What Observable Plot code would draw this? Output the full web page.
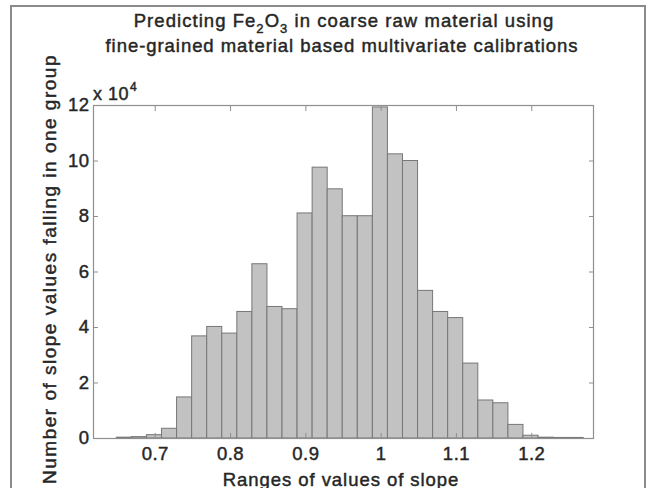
<!DOCTYPE html>
<html>
<head>
<meta charset="utf-8">
<script src="https://cdn.jsdelivr.net/npm/d3@7"></script>
<script src="https://cdn.jsdelivr.net/npm/@observablehq/plot@0.6"></script>
<style>
  html, body { margin: 0; padding: 0; background: #fff; }
  #wrap { position: relative; width: 653px; height: 488px; overflow: hidden; font-family: "Liberation Sans", Arial, sans-serif; color: #262626; }
  #wrap svg { position: absolute; left: 0; top: 0; }
  .lbl { position: absolute; white-space: nowrap; font-size: 18.5px; line-height: 18.5px; -webkit-text-stroke: 0.45px #262626; }
  #border { position: absolute; left: 10px; top: 5px; width: 636px; height: 600px; border: 2px solid #8a8a8a; box-sizing: border-box; }
</style>
</head>
<body>
<div id="wrap">
  <div id="border"></div>
</div>
<script>
// ---- data (counts are in units of 10^4) ----
const binCenters = [0.659, 0.679, 0.699, 0.719, 0.739, 0.759, 0.779, 0.799, 0.819, 0.839,
                    0.859, 0.879, 0.899, 0.919, 0.939, 0.959, 0.979, 0.999, 1.019, 1.039,
                    1.059, 1.079, 1.099, 1.119, 1.139, 1.159, 1.179, 1.199, 1.219, 1.239, 1.259];
const counts = [0.03, 0.05, 0.12, 0.35, 1.48, 3.68, 4.02, 3.78, 4.56, 6.28,
                4.74, 4.66, 8.11, 9.76, 8.98, 8.01, 8.01, 11.93, 10.24, 10.0,
                5.32, 4.56, 4.34, 2.70, 1.37, 1.27, 0.49, 0.10, 0.03, 0.02, 0.02];
const binWidth = 0.02;
const xTicks = [0.7, 0.8, 0.9, 1.0, 1.1, 1.2];
const xTickLabels = ["0.7", "0.8", "0.9", "1", "1.1", "1.2"];
const yTicks = [0, 2, 4, 6, 8, 10, 12];
const yTickLabels = ["0", "2", "4", "6", "8", "10", "12"];
const xDomain = [0.618, 1.282];
const yDomain = [0, 12];

const titleLine1 = 'Predicting Fe<span class="sub">2</span>O<span class="sub">3</span> in coarse raw material using';
const titleLine2 = "fine-grained material based multivariate calibrations";
const xLabel = "Ranges of values of slope";
const yLabel = "Number of slope values falling in one group";

const bins = binCenters.map((c, i) => ({x1: c - binWidth / 2, x2: c + binWidth / 2, count: counts[i]}));

const axisColor = "#8f8f8f";
const chart = Plot.plot({
  width: 653,
  height: 488,
  marginLeft: 93,
  marginRight: 60,
  marginTop: 105,
  marginBottom: 50,
  style: {fontFamily: "'Liberation Sans', Arial, sans-serif", fontSize: "18.5px", color: "#262626", background: "transparent", overflow: "visible"},
  x: {domain: xDomain},
  y: {domain: yDomain},
  marks: [
    Plot.rectY(bins, {x1: "x1", x2: "x2", y: "count", fill: "#c2c2c2", stroke: "#777", strokeWidth: 1}),
    Plot.frame({stroke: axisColor, strokeWidth: 1.2}),
    Plot.axisX({anchor: "bottom", ticks: xTicks, tickSize: -5, tickPadding: 13.5, stroke: axisColor,
                tickFormat: d => xTickLabels[xTicks.indexOf(d)], label: null, fill: "#262626"}),
    Plot.axisX({anchor: "top", ticks: xTicks, tickSize: -5, tickFormat: () => "", label: null, stroke: axisColor}),
    Plot.axisY({anchor: "left", ticks: yTicks, tickSize: -5, tickPadding: 9, stroke: axisColor,
                tickFormat: d => yTickLabels[yTicks.indexOf(d)], label: null, fill: "#262626"}),
    Plot.axisY({anchor: "right", ticks: yTicks, tickSize: -5, tickFormat: () => "", label: null, stroke: axisColor})
  ]
});
const wrap = document.getElementById("wrap");
wrap.appendChild(chart);
chart.querySelectorAll("text").forEach(t => {
  t.style.letterSpacing = "0.5px";
  t.setAttribute("stroke", "#262626");
  t.setAttribute("stroke-width", "0.45");
});

function addLabel(html, css) {
  const d = document.createElement("div");
  d.className = "lbl";
  d.innerHTML = html;
  Object.assign(d.style, css);
  wrap.appendChild(d);
  return d;
}
// title (centered over the plot area)
addLabel(titleLine1, {left: "344px", top: "12.3px", transform: "translateX(-50%)", letterSpacing: "1.05px"});
addLabel(titleLine2, {left: "342px", top: "37.3px", transform: "translateX(-50%)", letterSpacing: "0.95px"});
document.querySelectorAll(".sub").forEach(s => { s.style.fontSize = "13px"; s.style.position = "relative"; s.style.top = "6px"; });
// x label
addLabel(xLabel, {left: "341px", top: "470.5px", transform: "translateX(-50%)", letterSpacing: "0.95px"});
// y label (rotated)
addLabel(yLabel, {left: "49px", top: "269px", fontSize: "19px", lineHeight: "19px", letterSpacing: "1.5px",
                  transform: "translate(-50%, -50%) rotate(-90deg)"});
// multiplier
addLabel('x 10<span style="font-size:12px;position:relative;top:-9px;margin-left:1px">4</span>',
         {left: "93px", top: "85px", fontSize: "18px", lineHeight: "18px", letterSpacing: "0.5px"});
</script>
</body>
</html>
